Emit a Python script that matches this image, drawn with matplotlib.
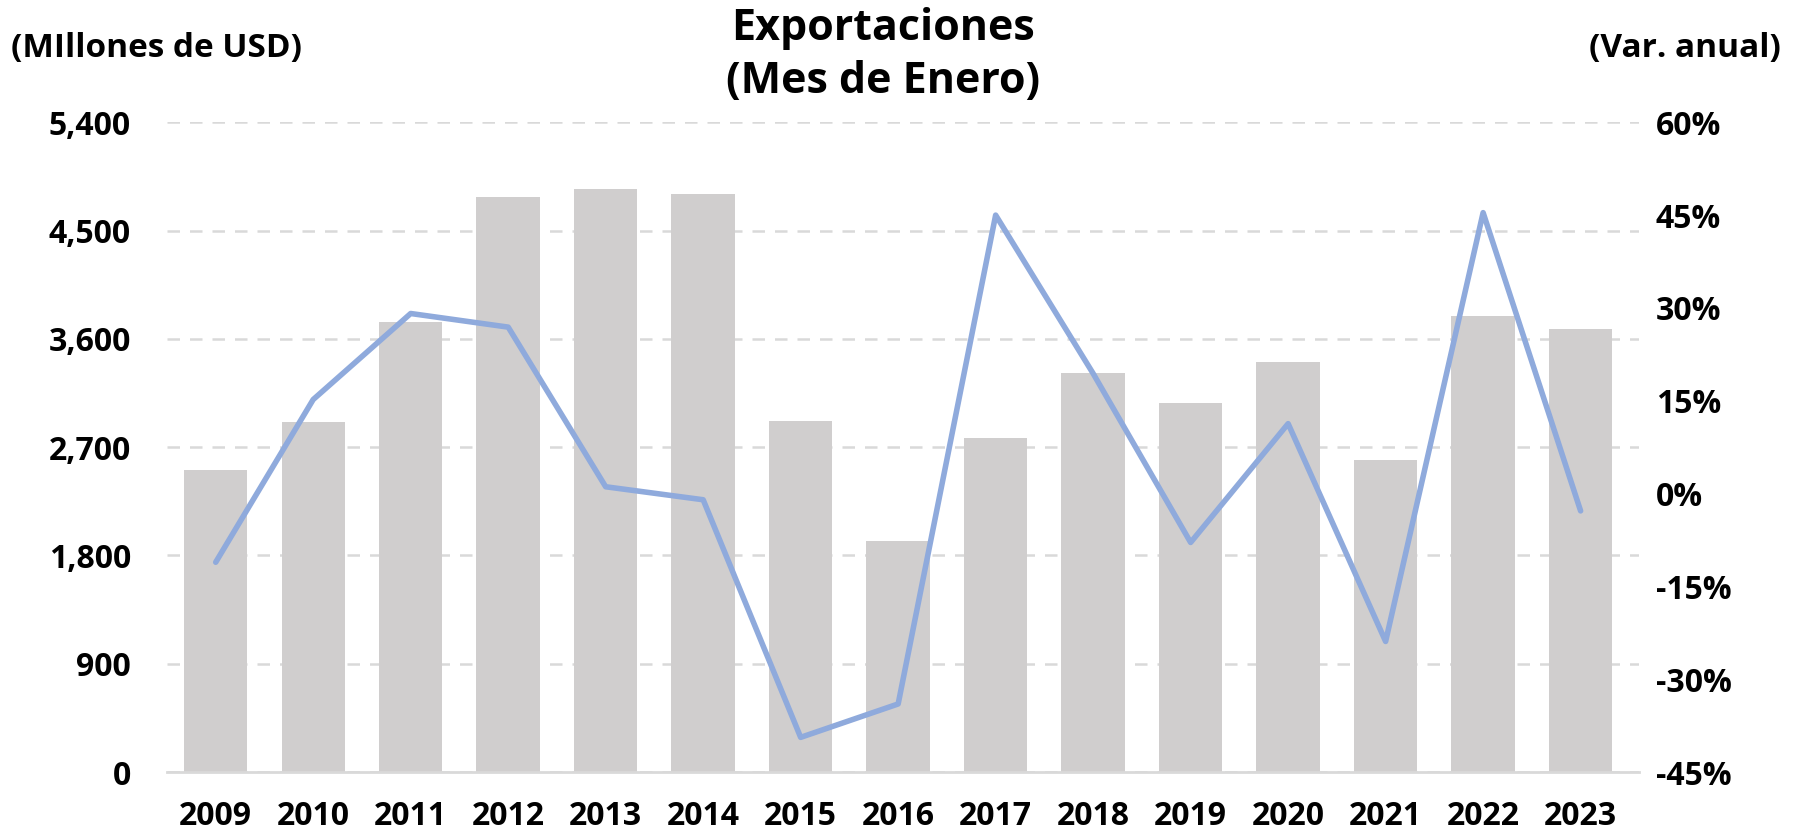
import matplotlib
matplotlib.use("Agg")
import matplotlib.pyplot as plt
from matplotlib.ticker import FuncFormatter, MultipleLocator

years = ["2009", "2010", "2011", "2012", "2013", "2014", "2015", "2016",
         "2017", "2018", "2019", "2020", "2021", "2022", "2023"]
exports = [2506, 2910, 3744, 4777, 4843, 4802, 2915, 1924,
           2776, 3314, 3069, 3407, 2597, 3793, 3679]
var_anual = [-11.1, 15.2, 29.1, 26.9, 1.1, -1.0, -39.4, -34.0,
             45.0, 19.4, -7.9, 11.3, -23.9, 45.4, -2.8]

plt.rcParams["font.family"] = ["Open Sans", "DejaVu Sans"]
plt.rcParams["font.weight"] = "bold"

bar_color = "#D0CECE"
line_color = "#8FAADC"
grid_color = "#D9D9D9"

fig = plt.figure(figsize=(18.03, 8.32), dpi=100)
ax = fig.add_axes([0.0926, 0.0721, 0.8165, 0.7809])
x = range(len(years))

ax.bar(x, exports, width=0.65, color=bar_color, zorder=2)
ax.set_ylim(0, 5400)
ax.set_xlim(-0.5, 14.6)
ax.yaxis.set_major_locator(MultipleLocator(900))
ax.yaxis.set_major_formatter(FuncFormatter(lambda v, p: f"{int(v):,}"))
ax.grid(axis="y", color=grid_color, linestyle=(0, (5, 4)), linewidth=1.8, zorder=0)
ax.set_xticks(list(x))
ax.set_xticklabels(years)
for s in ["top", "right", "left"]:
    ax.spines[s].set_visible(False)
ax.spines["bottom"].set_color(grid_color)
ax.spines["bottom"].set_linewidth(2)
ax.tick_params(axis="both", length=0, labelsize=23)
ax.tick_params(axis="y", pad=26)
ax.tick_params(axis="x", pad=20)

ax2 = ax.twinx()
ax2.plot(x, var_anual, color=line_color, linewidth=4, solid_capstyle="round", zorder=3)
ax2.set_ylim(-45, 60)
ax2.yaxis.set_major_locator(MultipleLocator(15))
ax2.yaxis.set_major_formatter(FuncFormatter(lambda v, p: f"{int(round(v))}%"))
for s in ["top", "right", "left", "bottom"]:
    ax2.spines[s].set_visible(False)
ax2.tick_params(axis="y", length=0, labelsize=23, pad=12)

fig.text(0.49, 0.966, "Exportaciones", ha="center", va="center", fontsize=31, fontweight="bold")
fig.text(0.49, 0.902, "(Mes de Enero)", ha="center", va="center", fontsize=31, fontweight="bold")
fig.text(0.006, 0.942, "(MIllones de USD)", ha="left", va="center", fontsize=24, fontweight="bold")
fig.text(0.988, 0.942, "(Var. anual)", ha="right", va="center", fontsize=24, fontweight="bold")

fig.savefig("out.png", dpi=100)
